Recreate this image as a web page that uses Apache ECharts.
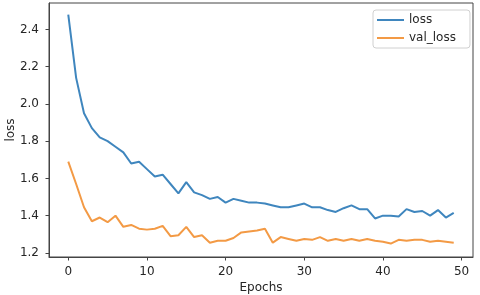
<!DOCTYPE html>
<html><head><meta charset="utf-8">
<script src="https://cdn.jsdelivr.net/npm/echarts@6/dist/echarts.min.js"></script>
<style>html,body{margin:0;padding:0;background:#fff}#c{width:480px;height:295px}</style>
</head><body><div id="c"></div>
<script>
const epochs = Array.from({length: 50}, (_, i) => i);
const loss = [2.48,2.14,1.95,1.87,1.82,1.80,1.77,1.74,1.68,1.69,
  1.65,1.61,1.62,1.57,1.52,1.58,1.525,1.51,1.49,1.50,
  1.47,1.49,1.48,1.47,1.47,1.465,1.455,1.445,1.445,1.455,
  1.465,1.445,1.445,1.43,1.42,1.44,1.455,1.435,1.435,1.385,
  1.40,1.40,1.395,1.435,1.42,1.425,1.40,1.43,1.39,1.415];
const valLoss = [1.69,1.57,1.445,1.37,1.39,1.365,1.40,1.34,1.35,1.33,
  1.325,1.33,1.345,1.29,1.295,1.34,1.285,1.295,1.255,1.265,
  1.265,1.28,1.31,1.315,1.32,1.33,1.255,1.285,1.275,1.265,
  1.275,1.27,1.285,1.265,1.275,1.265,1.275,1.265,1.275,1.265,
  1.26,1.25,1.27,1.265,1.27,1.27,1.26,1.265,1.26,1.255];
const xTicks = [0,10,20,30,40,50];
const yTicks = [1.2,1.4,1.6,1.8,2.0,2.2,2.4];

const txt = '#262626';
const font = 'DejaVu Sans';
const chart = echarts.init(document.getElementById('c'), null, {renderer: 'canvas'});
chart.setOption({
  animation: false,
  backgroundColor: '#fff',
  textStyle: {fontFamily: font},
  grid: {left: 49, right: 7, top: 3, bottom: 38, show: true, borderColor: '#444', borderWidth: 1,
    containLabel: false, outerBoundsMode: 'none'},
  legend: {
    left: 373, top: 10, orient: 'vertical',
    icon: 'rect', itemWidth: 27, itemHeight: 2, itemGap: 6,
    padding: [4, 14, 4, 4],
    borderColor: '#d0d0d0', borderWidth: 1, borderRadius: 3,
    textStyle: {fontFamily: font, fontSize: 12, color: txt},
    data: ['loss', 'val_loss']
  },
  xAxis: {
    type: 'value', min: -2.45, max: 51.45,
    name: 'Epochs', nameLocation: 'middle', nameGap: 25, nameMoveOverlap: false,
    nameTextStyle: {fontFamily: font, fontSize: 12, color: txt},
    axisLine: {show: true, onZero: false, lineStyle: {color: '#444'}},
    axisTick: {show: true, length: 3.5, lineStyle: {color: '#444'}, customValues: xTicks},
    axisLabel: {fontFamily: font, fontSize: 12, color: txt, margin: 9, customValues: xTicks},
    splitLine: {show: false}
  },
  yAxis: {
    type: 'value', min: 1.178, max: 2.542,
    name: 'loss', nameLocation: 'middle', nameGap: 32, nameRotate: 90, nameMoveOverlap: false,
    nameTextStyle: {fontFamily: font, fontSize: 12, color: txt},
    axisLine: {show: true, onZero: false, lineStyle: {color: '#444'}},
    axisTick: {show: true, length: 3.5, lineStyle: {color: '#444'}, customValues: yTicks},
    axisLabel: {fontFamily: font, fontSize: 12, color: txt, margin: 10, customValues: yTicks,
      formatter: v => v.toFixed(1)},
    splitLine: {show: false}
  },
  series: [
    {name: 'loss', type: 'line', data: epochs.map((e, i) => [e, loss[i]]),
     showSymbol: false, color: '#3f86be', lineStyle: {width: 2, color: '#3f86be'}},
    {name: 'val_loss', type: 'line', data: epochs.map((e, i) => [e, valLoss[i]]),
     showSymbol: false, color: '#f39a45', lineStyle: {width: 2, color: '#f39a45'}}
  ]
});
</script></body></html>
